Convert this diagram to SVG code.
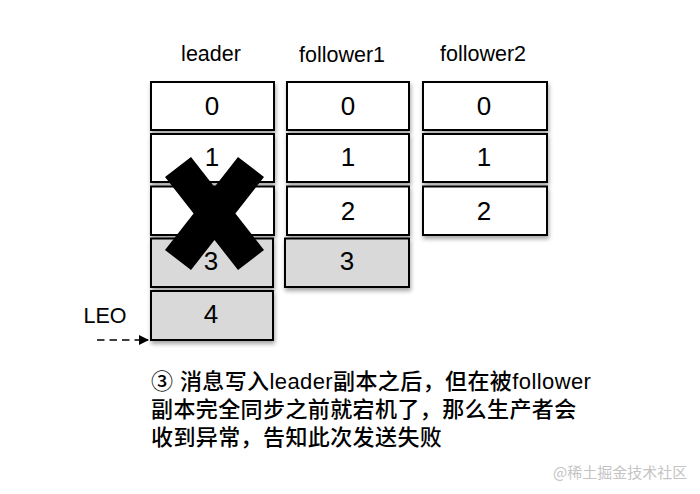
<svg xmlns="http://www.w3.org/2000/svg" width="700" height="494" viewBox="0 0 700 494">
<style>
.box{stroke:#000;stroke-width:2;filter:url(#sh)}
.w{fill:#fff}
.g{fill:#d9d9d9}
.num{font-family:"Liberation Sans",Arial,sans-serif;font-size:26px;text-anchor:middle;fill:#000}
.hdr{font-family:"Liberation Sans",Arial,sans-serif;font-size:21.5px;text-anchor:middle;fill:#000}
.cap{font-family:"Liberation Sans","Noto Sans CJK SC",sans-serif;font-size:22px;font-weight:500;letter-spacing:0.4px;fill:#000}
.wm{font-family:"Noto Sans CJK SC",sans-serif;font-size:15px;fill:#c4c4c4}
</style>
<defs>
<filter id="sh" x="-10%" y="-20%" width="130%" height="150%">
<feDropShadow dx="1" dy="3" stdDeviation="2" flood-color="#000" flood-opacity="0.35"/>
</filter>
<marker id="ah" markerWidth="10" markerHeight="10" refX="9" refY="5" orient="auto" markerUnits="userSpaceOnUse">
<path d="M0,0 L10,5 L0,10 Z" fill="#000"/>
</marker>
</defs>

<g id="headers">
<text class="hdr" x="211" y="61">leader</text>
<text class="hdr" x="342" y="62">follower1</text>
<text class="hdr" x="483" y="60.5">follower2</text>
</g>

<g id="leader-0"><rect class="box w" x="151" y="82" width="123" height="48"/><text class="num" x="212" y="115">0</text></g>
<g id="leader-1"><rect class="box w" x="151" y="134" width="123" height="48"/><text class="num" x="212" y="166">1</text></g>
<g id="leader-2"><rect class="box w" x="151" y="186.5" width="123" height="48.5"/></g>
<g id="leader-3"><rect class="box g" x="151" y="238.5" width="122" height="48.5"/><text class="num" x="211" y="270">3</text></g>
<g id="leader-4"><rect class="box g" x="151" y="291" width="122" height="49"/><text class="num" x="211" y="323">4</text></g>

<g id="follower1-0"><rect class="box w" x="287" y="82" width="122" height="48"/><text class="num" x="348" y="115">0</text></g>
<g id="follower1-1"><rect class="box w" x="287" y="134" width="122" height="48"/><text class="num" x="348" y="166">1</text></g>
<g id="follower1-2"><rect class="box w" x="287" y="186.5" width="122" height="48.5"/><text class="num" x="348" y="220">2</text></g>
<g id="follower1-3"><rect class="box g" x="285" y="238.5" width="124" height="48.5"/><text class="num" x="347" y="270">3</text></g>

<g id="follower2-0"><rect class="box w" x="423" y="82" width="124" height="48"/><text class="num" x="484" y="115">0</text></g>
<g id="follower2-1"><rect class="box w" x="423" y="134" width="124" height="48"/><text class="num" x="484" y="166">1</text></g>
<g id="follower2-2"><rect class="box w" x="423" y="186.5" width="124" height="48.5"/><text class="num" x="484" y="220">2</text></g>

<g id="cross">
<polygon fill="#000" points="191,157 214.5,187 238,157 264,177 235.4,213.5 264,250 238,270 214.5,240 191,270 165,250 193.6,213.5 165,177"/>
</g>

<g id="leo">
<text class="hdr" x="105" y="322.5">LEO</text>
</g>

<g id="connectors">
<line x1="97" y1="340" x2="148" y2="340" stroke="#000" stroke-width="1.6" stroke-dasharray="7.5,5" marker-end="url(#ah)"/>
</g>

<g id="caption">
<text class="cap" x="151" y="389">③ 消息写入leader副本之后，但在被follower</text>
<text class="cap" x="151" y="417">副本完全同步之前就宕机了，那么生产者会</text>
<text class="cap" x="151" y="445">收到异常，告知此次发送失败</text>
</g>

<g id="watermark">
<text class="wm" x="553" y="478">@稀土掘金技术社区</text>
</g>
</svg>
